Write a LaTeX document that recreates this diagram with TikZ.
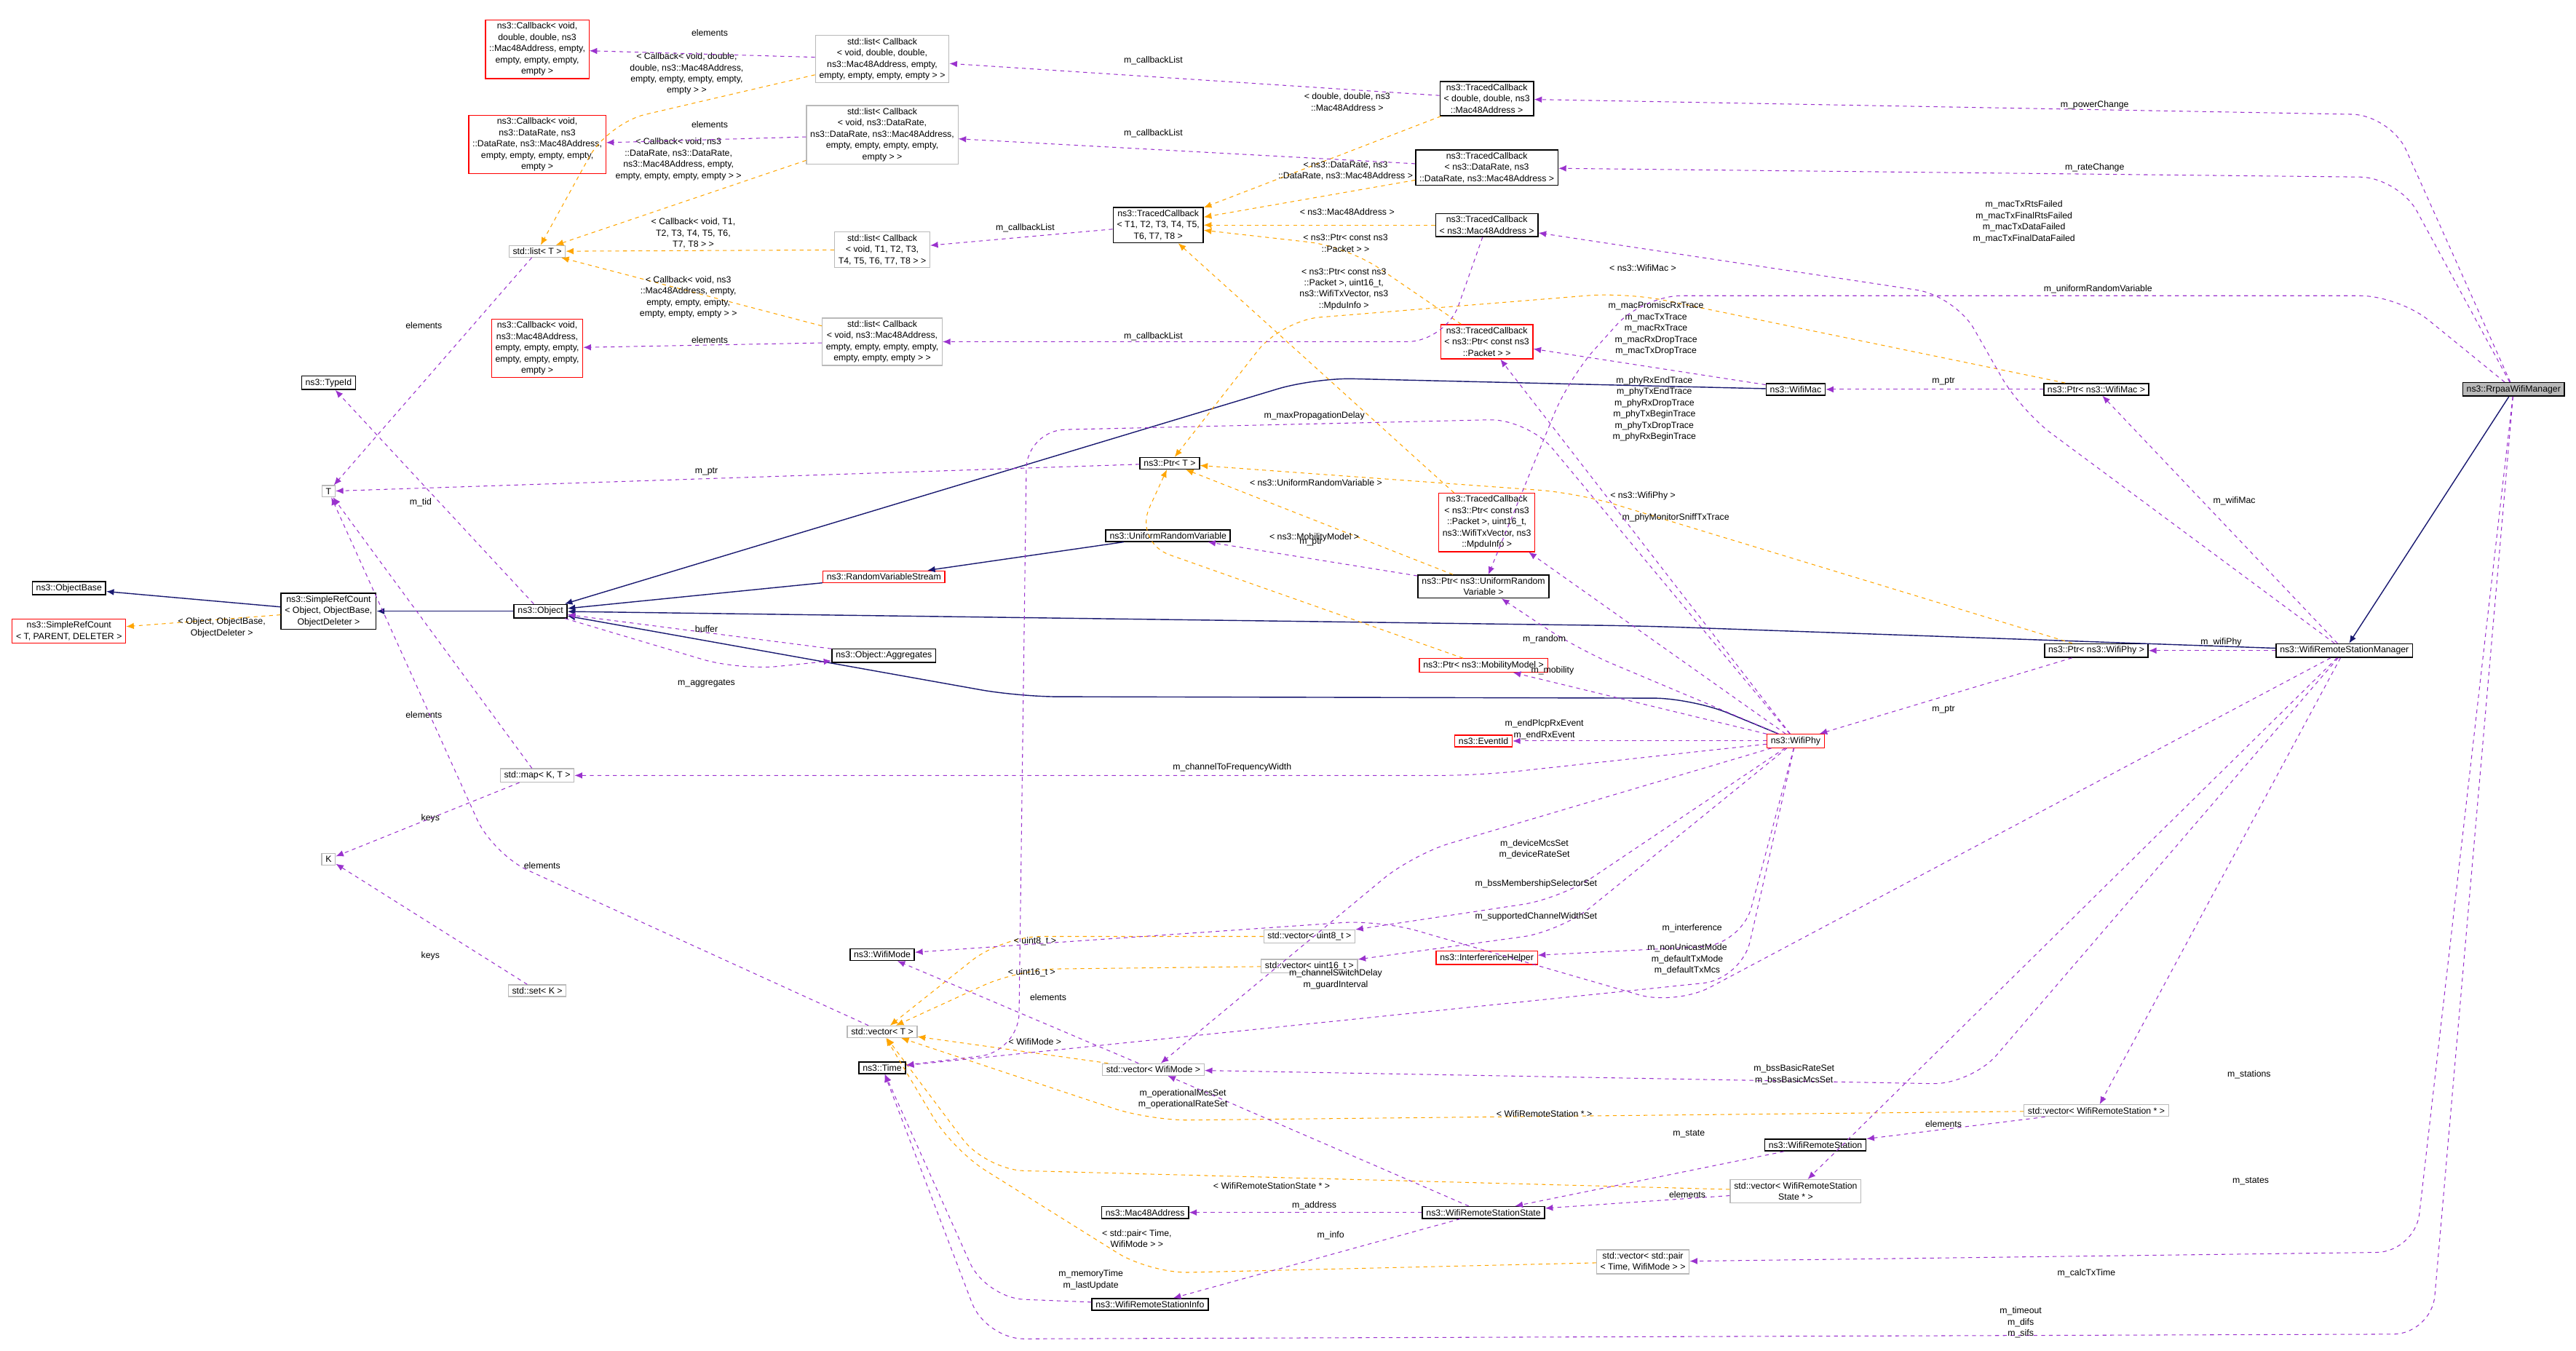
\documentclass[tikz,border=0pt]{standalone}
\usepackage{fontspec}
\setmainfont{Liberation Sans}
\usetikzlibrary{arrows.meta}
\definecolor{depcol}{HTML}{9A32CD}
\definecolor{tplcol}{HTML}{FFA500}
\definecolor{inhcol}{HTML}{191970}
\tikzset{
  cls/.style={draw, fill=white, text=black, align=center, inner xsep=3pt, inner ysep=2pt,
    font=\fontsize{7}{8.8}\selectfont},
  doc/.style={cls, draw=black, line width=0.9pt},
  und/.style={cls, draw=red, line width=0.7pt},
  tpl/.style={cls, draw=gray!55, line width=0.7pt},
  main/.style={cls, draw=black, fill=gray!55, line width=0.9pt},
  lbl/.style={align=center, text=black, inner sep=0pt, font=\fontsize{7}{8.8}\selectfont},
  dep/.style={depcol, dashed, line width=0.6pt, -{Latex[length=6pt,width=5pt]}, rounded corners=30pt},
  inst/.style={tplcol, dashed, line width=0.6pt, -{Latex[length=6pt,width=5pt]}, rounded corners=30pt},
  inh/.style={inhcol, line width=0.8pt, -{Latex[length=6pt,width=5pt]}, rounded corners=30pt}
}
\begin{document}
\begin{tikzpicture}[x=0.04514cm, y=-0.04514cm]
\useasboundingbox (0,0) rectangle (1568,822);

% callbacks and lists
\node[und] (cbA) at (327,30) {ns3::Callback< void,\\ double, double, ns3\\::Mac48Address, empty,\\ empty, empty, empty,\\ empty >};
\node[und] (cbB) at (327,88) {ns3::Callback< void,\\ ns3::DataRate, ns3\\::DataRate, ns3::Mac48Address,\\ empty, empty, empty, empty,\\ empty >};
\node[und] (cbC) at (327,212) {ns3::Callback< void,\\ ns3::Mac48Address,\\ empty, empty, empty,\\ empty, empty, empty,\\ empty >};
\node[tpl] (listT) at (327,153) {std::list< T >};
\node[tpl] (lst1) at (537,36) {std::list< Callback\\< void, double, double,\\ ns3::Mac48Address, empty,\\ empty, empty, empty, empty > >};
\node[tpl] (lst2) at (537,82) {std::list< Callback\\< void, ns3::DataRate,\\ ns3::DataRate, ns3::Mac48Address,\\ empty, empty, empty, empty,\\ empty > >};
\node[tpl] (lst3) at (537,152) {std::list< Callback\\< void, T1, T2, T3,\\ T4, T5, T6, T7, T8 > >};
\node[tpl] (lst4) at (537,208) {std::list< Callback\\< void, ns3::Mac48Address,\\ empty, empty, empty, empty,\\ empty, empty, empty > >};
\node[doc] (tcT) at (705,137) {ns3::TracedCallback\\< T1, T2, T3, T4, T5,\\ T6, T7, T8 >};
\node[doc] (tc1) at (905,60) {ns3::TracedCallback\\< double, double, ns3\\::Mac48Address >};
\node[doc] (tc2) at (905,102) {ns3::TracedCallback\\< ns3::DataRate, ns3\\::DataRate, ns3::Mac48Address >};
\node[doc] (tc3) at (905,137) {ns3::TracedCallback\\< ns3::Mac48Address >};
\node[und] (tc4) at (905,208) {ns3::TracedCallback\\< ns3::Ptr< const ns3\\::Packet > >};
\node[und] (tc5) at (905,318) {ns3::TracedCallback\\< ns3::Ptr< const ns3\\::Packet >, uint16\_t,\\ ns3::WifiTxVector, ns3\\::MpduInfo >};

% object hierarchy
\node[doc] (ptrT) at (712,282) {ns3::Ptr< T >};
\node[doc] (urv) at (711,326) {ns3::UniformRandomVariable};
\node[doc] (ptrURV) at (903,357) {ns3::Ptr< ns3::UniformRandom\\Variable >};
\node[und] (rvs) at (538,351) {ns3::RandomVariableStream};
\node[doc] (object) at (329,372) {ns3::Object};
\node[doc] (typeid) at (200,233) {ns3::TypeId};
\node[tpl] (T) at (200,299) {T};
\node[doc] (objbase) at (42,358) {ns3::ObjectBase};
\node[doc] (srcount) at (200,372) {ns3::SimpleRefCount\\< Object, ObjectBase,\\ ObjectDeleter >};
\node[und] (srcred) at (42,384) {ns3::SimpleRefCount\\< T, PARENT, DELETER >};
\node[doc] (agg) at (538,399) {ns3::Object::Aggregates};
\node[und] (ptrMM) at (903,405) {ns3::Ptr< ns3::MobilityModel >};
\node[und] (eventid) at (903,451) {ns3::EventId};
\node[tpl] (map) at (327,472) {std::map< K, T >};
\node[tpl] (K) at (200,523) {K};
\node[tpl] (set) at (327,603) {std::set< K >};

% vectors and stations
\node[tpl] (vecT) at (537,628) {std::vector< T >};
\node[doc] (time) at (537,650) {ns3::Time};
\node[doc] (wifimode) at (537,581) {ns3::WifiMode};
\node[tpl] (vu8) at (797,570) {std::vector< uint8\_t >};
\node[tpl] (vu16) at (797,588) {std::vector< uint16\_t >};
\node[und] (ih) at (905,583) {ns3::InterferenceHelper};
\node[tpl] (vwm) at (702,651) {std::vector< WifiMode >};
\node[doc] (mac48) at (697,738) {ns3::Mac48Address};
\node[doc] (wrss) at (903,738) {ns3::WifiRemoteStationState};
\node[doc] (wrsi) at (700,794) {ns3::WifiRemoteStationInfo};
\node[doc] (wrs) at (1105,697) {ns3::WifiRemoteStation};
\node[tpl] (vwrss) at (1093,725) {std::vector< WifiRemoteStation\\State * >};
\node[tpl] (vpair) at (1000,768) {std::vector< std::pair\\< Time, WifiMode > >};
\node[tpl] (vwrs) at (1276,676) {std::vector< WifiRemoteStation * >};

% managers
\node[doc] (wifimac) at (1093,237) {ns3::WifiMac};
\node[doc] (ptrMac) at (1276,237) {ns3::Ptr< ns3::WifiMac >};
\node[und] (wifiphy) at (1093,451) {ns3::WifiPhy};
\node[doc] (ptrPhy) at (1276,396) {ns3::Ptr< ns3::WifiPhy >};
\node[doc] (wrsm) at (1427,396) {ns3::WifiRemoteStationManager};
\node[main] (rrpaa) at (1530,237) {ns3::RrpaaWifiManager};

% inheritance
\draw[inh] (rrpaa) -- (wrsm);
\draw[inh] (wrsm) -- (1000,381) -- (object);
\draw[inh] (wifimac) -- (800,230) -- (object);
\draw[inh] (wifiphy) -- (1030,425) -- (620,424) -- (object);
\draw[inh] (rvs) -- (object);
\draw[inh] (urv) -- (rvs);
\draw[inh] (object) -- (srcount);
\draw[inh] (srcount) -- (objbase);

% template instances
\draw[inst] (lst1) -- (370,75) -- (listT) node[lbl, at={(418,45)}] {< Callback< void, double,\\ double, ns3::Mac48Address,\\ empty, empty, empty, empty,\\ empty > >};
\draw[inst] (lst2) -- (listT) node[lbl, at={(413,97)}] {< Callback< void, ns3\\::DataRate, ns3::DataRate,\\ ns3::Mac48Address, empty,\\ empty, empty, empty, empty > >};
\draw[inst] (lst3) -- (listT) node[lbl, at={(422,142)}] {< Callback< void, T1,\\ T2, T3, T4, T5, T6,\\ T7, T8 > >};
\draw[inst] (lst4) -- (listT) node[lbl, at={(419,181)}] {< Callback< void, ns3\\::Mac48Address, empty,\\ empty, empty, empty,\\ empty, empty, empty > >};
\draw[inst] (tc1) -- (tcT) node[lbl, at={(820,62)}] {< double, double, ns3\\::Mac48Address >};
\draw[inst] (tc2) -- (tcT) node[lbl, at={(819,104)}] {< ns3::DataRate, ns3\\::DataRate, ns3::Mac48Address >};
\draw[inst] (tc3) -- (tcT) node[lbl, at={(820,129)}] {< ns3::Mac48Address >};
\draw[inst] (tc4) -- (820,150) -- (tcT) node[lbl, at={(819,148)}] {< ns3::Ptr< const ns3\\::Packet > >};
\draw[inst] (tc5) -- (tcT) node[lbl, at={(818,176)}] {< ns3::Ptr< const ns3\\::Packet >, uint16\_t,\\ ns3::WifiTxVector, ns3\\::MpduInfo >};
\draw[inst] (ptrMac) -- (990,178) -- (780,195) -- (ptrT) node[lbl, at={(1000,163)}] {< ns3::WifiMac >};
\draw[inst] (ptrPhy) -- (960,300) -- (ptrT) node[lbl, at={(1000,302)}] {< ns3::WifiPhy >};
\draw[inst] (ptrURV) -- (ptrT) node[lbl, at={(801,294)}] {< ns3::UniformRandomVariable >};
\draw[inst] (ptrMM) -- (690,330) -- (ptrT) node[lbl, at={(800,327)}] {< ns3::MobilityModel >};
\draw[inst] (srcount) -- (srcred) node[lbl, at={(135,382)}] {< Object, ObjectBase,\\ ObjectDeleter >};
\draw[inst] (vu8) -- (610,570) -- (vecT) node[lbl, at={(630,573)}] {< uint8\_t >};
\draw[inst] (vu16) -- (620,590) -- (vecT) node[lbl, at={(628,592)}] {< uint16\_t >};
\draw[inst] (vwm) -- (vecT) node[lbl, at={(630,634)}] {< WifiMode >};
\draw[inst] (vwrs) -- (700,682) -- (vecT) node[lbl, at={(940,678)}] {< WifiRemoteStation * >};
\draw[inst] (vwrss) -- (600,712) -- (vecT) node[lbl, at={(774,722)}] {< WifiRemoteStationState * >};
\draw[inst] (vpair) -- (700,775) -- (580,700) -- (vecT) node[lbl, at={(692,754)}] {< std::pair< Time,\\ WifiMode > >};

% members
\draw[dep] (lst1) -- (cbA) node[lbl, at={(432,20)}] {elements};
\draw[dep] (lst2) -- (cbB) node[lbl, at={(432,76)}] {elements};
\draw[dep] (lst4) -- (cbC) node[lbl, at={(432,207)}] {elements};
\draw[dep] (tc1) -- (lst1) node[lbl, at={(702,37)}] {m\_callbackList};
\draw[dep] (tc2) -- (lst2) node[lbl, at={(702,81)}] {m\_callbackList};
\draw[dep] (tcT) -- (lst3) node[lbl, at={(624,139)}] {m\_callbackList};
\draw[dep] (tc3) -- (880,208) -- (lst4) node[lbl, at={(702,205)}] {m\_callbackList};
\draw[dep] (listT) -- (T) node[lbl, at={(258,198)}] {elements};
\draw[dep] (ptrT) -- (T) node[lbl, at={(430,287)}] {m\_ptr};
\draw[dep] (object) -- (typeid) node[lbl, at={(256,306)}] {m\_tid};
\draw[dep] (agg) -- (object) node[lbl, at={(430,383)}] {buffer};
\draw[dep] (object) -- (450,408) -- (agg) node[lbl, at={(430,416)}] {m\_aggregates};
\draw[dep] (map) -- (T) node[lbl, at={(258,435)}] {elements};
\draw[dep] (map) -- (K) node[lbl, at={(262,498)}] {keys};
\draw[dep] (set) -- (K) node[lbl, at={(262,582)}] {keys};
\draw[dep] (vecT) -- (300,520) -- (T) node[lbl, at={(330,527)}] {elements};
\draw[dep] (ptrURV) -- (urv) node[lbl, at={(798,330)}] {m\_ptr};
\draw[dep] (wifimac) -- (tc4) node[lbl, at={(1008,200)}] {m\_macPromiscRxTrace\\m\_macTxTrace\\m\_macRxTrace\\m\_macRxDropTrace\\m\_macTxDropTrace};
\draw[dep] (wifiphy) -- (tc4) node[lbl, at={(1007,249)}] {m\_phyRxEndTrace\\m\_phyTxEndTrace\\m\_phyRxDropTrace\\m\_phyTxBeginTrace\\m\_phyTxDropTrace\\m\_phyRxBeginTrace};
\draw[dep] (wifiphy) -- (tc5) node[lbl, at={(1020,315)}] {m\_phyMonitorSniffTxTrace};
\draw[dep] (ptrMac) -- (wifimac) node[lbl, at={(1183,232)}] {m\_ptr};
\draw[dep] (wrsm) -- (ptrMac) node[lbl, at={(1360,305)}] {m\_wifiMac};
\draw[dep] (wrsm) -- (ptrPhy) node[lbl, at={(1352,391)}] {m\_wifiPhy};
\draw[dep] (ptrPhy) -- (wifiphy) node[lbl, at={(1183,432)}] {m\_ptr};
\draw[dep] (wifiphy) -- (960,395) -- (ptrURV) node[lbl, at={(940,389)}] {m\_random};
\draw[dep] (wifiphy) -- (ptrMM) node[lbl, at={(945,408)}] {m\_mobility};
\draw[dep] (wifiphy) -- (eventid) node[lbl, at={(940,444)}] {m\_endPlcpRxEvent\\m\_endRxEvent};
\draw[dep] (wifiphy) -- (900,472) -- (map) node[lbl, at={(750,467)}] {m\_channelToFrequencyWidth};
\draw[dep] (wifiphy) -- (930,255) -- (625,262) -- (620,640) -- (time) node[lbl, at={(800,253)}] {m\_maxPropagationDelay};
\draw[dep] (wifiphy) -- (860,520) -- (vwm) node[lbl, at={(934,517)}] {m\_deviceMcsSet\\m\_deviceRateSet};
\draw[dep] (wifiphy) -- (950,547) -- (vu8) node[lbl, at={(935,538)}] {m\_bssMembershipSelectorSet};
\draw[dep] (wifiphy) -- (950,567) -- (vu16) node[lbl, at={(935,558)}] {m\_supportedChannelWidthSet};
\draw[dep] (wifiphy) -- (1060,575) -- (ih) node[lbl, at={(1030,565)}] {m\_interference};
\draw[dep] (wifiphy) -- (1060,596) -- (time) node[lbl, at={(813,596)}] {m\_channelSwitchDelay\\m\_guardInterval};
\draw[dep] (wrsm) -- (1020,612) -- (840,560) -- (wifimode) node[lbl, at={(1027,584)}] {m\_nonUnicastMode\\m\_defaultTxMode\\m\_defaultTxMcs};
\draw[dep] (vwm) -- (wifimode) node[lbl, at={(638,607)}] {elements};
\draw[dep] (wrsm) -- (1200,660) -- (vwm) node[lbl, at={(1092,654)}] {m\_bssBasicRateSet\\m\_bssBasicMcsSet};
\draw[dep] (wrss) -- (vwm) node[lbl, at={(720,669)}] {m\_operationalMcsSet\\m\_operationalRateSet};
\draw[dep] (wrsm) -- (vwrs) node[lbl, at={(1369,654)}] {m\_stations};
\draw[dep] (vwrs) -- (wrs) node[lbl, at={(1183,684)}] {elements};
\draw[dep] (wrs) -- (wrss) node[lbl, at={(1028,690)}] {m\_state};
\draw[dep] (vwrss) -- (wrss) node[lbl, at={(1027,727)}] {elements};
\draw[dep] (wrsm) -- (vwrss) node[lbl, at={(1370,719)}] {m\_states};
\draw[dep] (wrss) -- (mac48) node[lbl, at={(800,734)}] {m\_address};
\draw[dep] (wrss) -- (wrsi) node[lbl, at={(810,752)}] {m\_info};
\draw[dep] (wrsi) -- (600,790) -- (time) node[lbl, at={(664,779)}] {m\_memoryTime\\m\_lastUpdate};
\draw[dep] (rrpaa) -- (1470,762) -- (vpair) node[lbl, at={(1270,775)}] {m\_calcTxTime};
\draw[dep] (rrpaa) -- (1480,812) -- (600,815) -- (time) node[lbl, at={(1230,805)}] {m\_timeout\\m\_difs\\m\_sifs};
\draw[dep] (rrpaa) -- (1455,70) -- (tc1) node[lbl, at={(1275,64)}] {m\_powerChange};
\draw[dep] (rrpaa) -- (1460,108) -- (tc2) node[lbl, at={(1275,102)}] {m\_rateChange};
\draw[dep] (wrsm) -- (1230,250) -- (1190,180) -- (tc3) node[lbl, at={(1232,135)}] {m\_macTxRtsFailed\\m\_macTxFinalRtsFailed\\m\_macTxDataFailed\\m\_macTxFinalDataFailed};
\draw[dep] (rrpaa) -- (1460,180) -- (1000,180) -- (955,230) -- (ptrURV) node[lbl, at={(1277,176)}] {m\_uniformRandomVariable};
\end{tikzpicture}
\end{document}
